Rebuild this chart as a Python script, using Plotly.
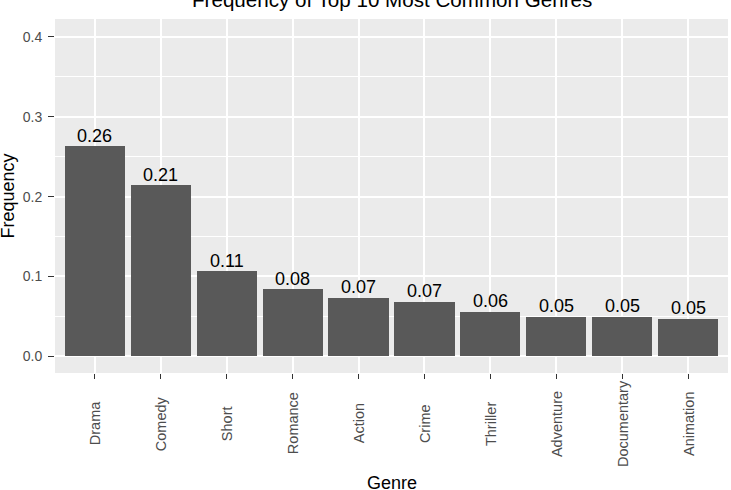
import plotly.graph_objects as go

genres = ["Drama", "Comedy", "Short", "Romance", "Action", "Crime",
          "Thriller", "Adventure", "Documentary", "Animation"]
frequency = [0.263, 0.214, 0.1065, 0.084, 0.073, 0.068, 0.0556, 0.0497, 0.0493, 0.0468]
bar_labels = [f"{v:.2f}" for v in frequency]
y_ticks = [0.0, 0.1, 0.2, 0.3, 0.4]
y_tick_text = ["0.0", "0.1", "0.2", "0.3", "0.4"]
title_text = "Frequency of Top 10 Most Common Genres"
x_title = "Genre"
y_title = "Frequency"

FONT = "Liberation Sans, Arial, sans-serif"

fig = go.Figure()
fig.add_trace(go.Bar(
    x=genres, y=frequency, width=0.91,
    marker=dict(color="#595959", line=dict(width=0)),
    hoverinfo="skip",
))

annotations = []
for g, v, t in zip(genres, frequency, bar_labels):
    annotations.append(dict(
        x=g, y=v, xref="x", yref="y", text=t, showarrow=False,
        xanchor="center", yanchor="middle", yshift=10.5,
        font=dict(family=FONT, size=18, color="#000000"),
    ))
# rotated, centred category labels
for g in genres:
    annotations.append(dict(
        x=g, y=-0.143, xref="x", yref="paper", text=g, showarrow=False,
        textangle=-90, xanchor="center", yanchor="middle",
        font=dict(family=FONT, size=14.5, color="#4D4D4D"),
    ))
annotations.append(dict(
    x=0.5, y=-0.3096, xref="paper", yref="paper", text=x_title, showarrow=False,
    xanchor="center", yanchor="middle",
    font=dict(family=FONT, size=18, color="#000000"),
))
annotations.append(dict(
    x=-0.0691, y=0.5, xref="paper", yref="paper", text=y_title, showarrow=False,
    textangle=-90, xanchor="center", yanchor="middle",
    font=dict(family=FONT, size=18, color="#000000"),
))
annotations.append(dict(
    x=0.5, y=1.056, xref="paper", yref="paper", text=title_text, showarrow=False,
    xanchor="center", yanchor="middle",
    font=dict(family=FONT, size=20.6, color="#000000"),
))

fig.update_layout(
    width=731, height=490,
    margin=dict(l=55, r=3, t=19, b=117, pad=0),
    paper_bgcolor="#FFFFFF",
    plot_bgcolor="#EBEBEB",
    showlegend=False,
    bargap=0,
    annotations=annotations,
    font=dict(family=FONT),
)
fig.update_xaxes(
    type="category", range=[-0.6, 9.6],
    showgrid=True, gridcolor="#FFFFFF", gridwidth=1.8,
    showticklabels=False,
    ticks="outside", ticklen=5, tickwidth=1, tickcolor="#333333",
    showline=False, zeroline=False, fixedrange=True,
)
fig.update_yaxes(
    range=[-0.021, 0.4225],
    tickvals=y_ticks, ticktext=y_tick_text,
    showgrid=True, gridcolor="#FFFFFF", gridwidth=1.8,
    minor=dict(dtick=0.05, tick0=0, showgrid=True, gridcolor="#FFFFFF", gridwidth=0.9, ticks=""),
    ticks="outside", ticklen=6, tickwidth=1, tickcolor="#333333",
    tickfont=dict(family=FONT, size=14, color="#4D4D4D"),
    ticklabelstandoff=3,
    showline=False, zeroline=False, fixedrange=True,
)

fig.write_html("out.html")
